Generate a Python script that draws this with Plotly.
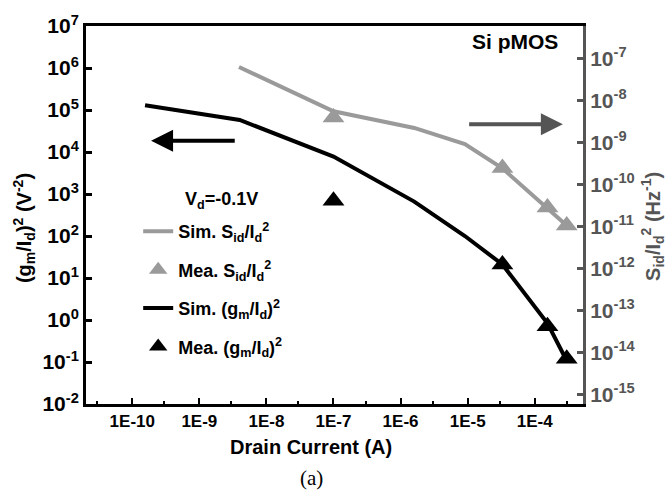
import plotly.graph_objects as go

# ---- data ----
sim_sid_x = [3.9e-9, 1.0e-7, 1.6e-6, 9.1e-6, 3.3e-5, 1.55e-4, 3.0e-4]
sim_sid_y = [6.2e-8, 5.5e-9, 2.2e-9, 9.1e-10, 2.4e-10, 2.75e-11, 1.05e-11]
mea_sid_x = [1.0e-7, 3.3e-5, 1.55e-4, 3.0e-4]
mea_sid_y = [3.9e-9, 2.45e-10, 2.8e-11, 1.05e-11]
sim_gm_x = [1.55e-10, 4.0e-9, 1.0e-7, 1.6e-6, 9.1e-6, 3.3e-5, 1.55e-4, 3.0e-4]
sim_gm_y = [1.3e5, 5.8e4, 7.8e3, 6.6e2, 1.0e2, 2.1e1, 8.3e-1, 1.07e-1]
mea_gm_x = [1.0e-7, 3.3e-5, 1.55e-4, 3.0e-4]
mea_gm_y = [6.9e2, 2.1e1, 7.1e-1, 1.2e-1]

x_tick_vals = [1e-10, 1e-9, 1e-8, 1e-7, 1e-6, 1e-5, 1e-4]
x_tick_text = ["1E-10", "1E-9", "1E-8", "1E-7", "1E-6", "1E-5", "1E-4"]
yl_exps = [7, 6, 5, 4, 3, 2, 1, 0, -1, -2]
yr_exps = [-7, -8, -9, -10, -11, -12, -13, -14, -15]

GRAY = "#9a9a9a"
DGRAY = "#555555"
FONT = "Liberation Sans"

fig = go.Figure()
fig.add_trace(go.Scatter(x=sim_sid_x, y=sim_sid_y, mode="lines", yaxis="y2",
                         line=dict(color=GRAY, width=4), legendgroup="a",
                         name="Sim. S<sub>id</sub>/I<sub>d</sub><sup>2</sup>"))
fig.add_trace(go.Scatter(x=mea_sid_x, y=mea_sid_y, mode="markers", yaxis="y2",
                         marker=dict(symbol="triangle-up", size=19, color=GRAY), legendgroup="b",
                         name="Mea. S<sub>id</sub>/I<sub>d</sub><sup>2</sup>"))
fig.add_trace(go.Scatter(x=sim_gm_x, y=sim_gm_y, mode="lines",
                         line=dict(color="black", width=4), legendgroup="c",
                         name="Sim. (g<sub>m</sub>/I<sub>d</sub>)<sup>2</sup>"))
fig.add_trace(go.Scatter(x=mea_gm_x, y=mea_gm_y, mode="markers",
                         marker=dict(symbol="triangle-up", size=19, color="black"), legendgroup="d",
                         name="Mea. (g<sub>m</sub>/I<sub>d</sub>)<sup>2</sup>"))

fig.update_layout(
    width=667, height=492,
    margin=dict(l=86, r=84, t=19, b=88),
    paper_bgcolor="white", plot_bgcolor="white",
    font=dict(family=FONT, size=16, color="black", weight="bold"),
    showlegend=True,
    legend=dict(x=0.105, y=0.505, xanchor="left", yanchor="top", bgcolor="rgba(0,0,0,0)",
                tracegroupgap=12, font=dict(size=18, weight="bold"), itemsizing="trace"),
    xaxis=dict(type="log", range=[-10.69, -3.28], showline=True, linecolor="black", linewidth=3,
               mirror=True, ticks="inside", ticklen=6, tickwidth=2, tickcolor="black",
               tickvals=x_tick_vals, ticktext=x_tick_text, showgrid=False, zeroline=False,
               tickfont=dict(size=17, weight="bold"),
               minor=dict(ticks="inside", ticklen=3, tickwidth=2, tickcolor="black",
                          tickvals=[3e-11, 3e-10, 3e-9, 3e-8, 3e-7, 3e-6, 3e-5, 3e-4], showgrid=False)),
    yaxis=dict(type="log", range=[-2, 7], showline=True, linecolor="black", linewidth=3,
               ticks="inside", ticklen=6, tickwidth=3, tickcolor="black", showgrid=False,
               tickvals=[10.0 ** e for e in yl_exps],
               ticktext=["10<sup>%s</sup>" % e for e in yl_exps],
               tickfont=dict(size=21, weight="bold"), zeroline=False),
    yaxis2=dict(type="log", range=[-15.23, -6.23], overlaying="y", side="right",
                showline=True, linecolor=DGRAY, linewidth=3, ticks="inside", ticklen=6,
                tickwidth=3, tickcolor=DGRAY, showgrid=False,
                tickvals=[10.0 ** e for e in yr_exps],
                ticktext=["10<sup>%s</sup>" % e for e in yr_exps],
                tickfont=dict(size=21, color=DGRAY, weight="bold"), zeroline=False),
    annotations=[
        dict(text="Si pMOS", xref="paper", yref="paper", x=0.863, y=0.96, showarrow=False,
             xanchor="center", yanchor="middle", font=dict(size=21, weight="bold")),
        dict(text="V<sub>d</sub>=-0.1V", xref="paper", yref="paper", x=0.195, y=0.538,
             xanchor="left", yanchor="middle", showarrow=False, font=dict(size=18, weight="bold")),
        dict(text="Drain Current (A)", xref="paper", yref="paper", x=0.453, y=-0.114,
             xanchor="center", yanchor="middle", showarrow=False, font=dict(size=20, weight="bold")),
        dict(text="(a)", xref="paper", yref="paper", x=0.453, y=-0.197, showarrow=False,
             xanchor="center", yanchor="middle",
             font=dict(size=21, family="Liberation Serif", weight="normal")),
        dict(text="(g<sub>m</sub>/I<sub>d</sub>)<sup>2</sup> (V<sup>-2</sup>)", xref="paper", yref="paper",
             x=-0.125, y=0.465, textangle=-90, showarrow=False, xanchor="center", yanchor="middle",
             font=dict(size=20, weight="bold")),
        dict(text="S<sub>id</sub>/I<sub>d</sub><sup>2</sup> (Hz<sup>-1</sup>)", xref="paper", yref="paper",
             x=1.14, y=0.47, textangle=-90, showarrow=False, xanchor="center", yanchor="middle",
             font=dict(size=20, color=DGRAY, weight="bold")),
        dict(x=-9.72, y=4.27, ax=-8.45, ay=4.27, xref="x", yref="y", axref="x", ayref="y",
             text="", showarrow=True, arrowhead=2, arrowsize=1.1, arrowwidth=4, arrowcolor="black"),
        dict(x=-3.58, y=4.66, ax=-5.0, ay=4.66, xref="x", yref="y", axref="x", ayref="y",
             text="", showarrow=True, arrowhead=2, arrowsize=1.1, arrowwidth=4, arrowcolor=DGRAY),
    ],
)

fig.write_html("out.html")
